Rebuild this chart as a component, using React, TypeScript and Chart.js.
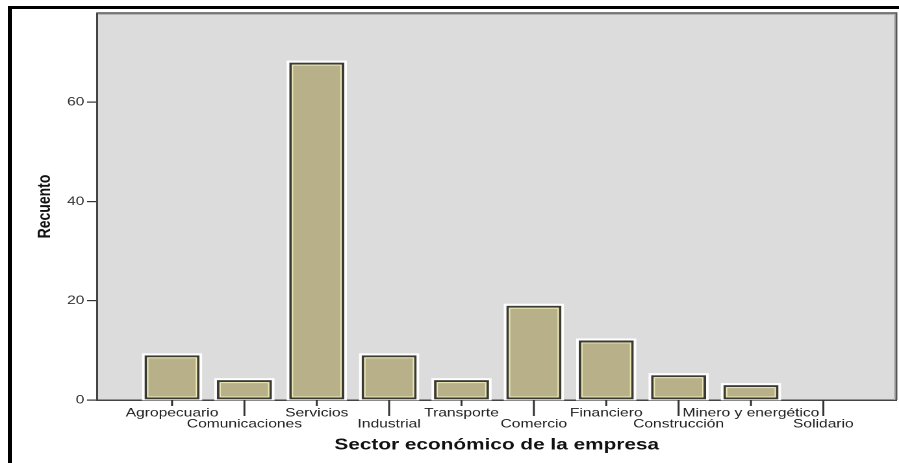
import React, { useEffect, useRef } from 'react';
import { Chart, registerables } from 'chart.js';

Chart.register(...registerables);

// ---- data ----
const categories = [
  'Agropecuario',
  'Comunicaciones',
  'Servicios',
  'Industrial',
  'Transporte',
  'Comercio',
  'Financiero',
  'Construcción',
  'Minero y energético',
  'Solidario',
];
const counts = [9, 4, 68, 9, 4, 19, 12, 5, 3, 0];
const yTickValues = [0, 20, 40, 60];
const yTitle = 'Recuento';
const xTitle = 'Sector económico de la empresa';

// ---- layout ----
const PAGE_W = 899;
const PAGE_H = 463;
const INNER_W = 692;
const STRETCH = PAGE_W / INNER_W;
const FONT = "'Liberation Sans', Arial, Helvetica, sans-serif";

const plotFrame = {
  id: 'plotFrame',
  beforeDraw(chart: any) {
    const { ctx, chartArea: a } = chart;
    ctx.save();
    ctx.fillStyle = '#dcdcdc';
    ctx.fillRect(a.left, a.top, a.right - a.left, a.bottom - a.top);
    ctx.restore();
  },
  afterDraw(chart: any) {
    const { ctx, chartArea: a } = chart;
    ctx.save();
    // top & right frame lines
    ctx.strokeStyle = '#555';
    ctx.lineWidth = 1.5;
    ctx.beginPath();
    ctx.moveTo(a.left, a.top);
    ctx.lineTo(a.right, a.top);
    ctx.lineTo(a.right, a.bottom);
    ctx.stroke();
    ctx.strokeStyle = '#b4b4b4';
    ctx.lineWidth = 1;
    ctx.beginPath();
    ctx.moveTo(a.left + 1, a.top + 1.5);
    ctx.lineTo(a.right - 1.5, a.top + 1.5);
    ctx.lineTo(a.right - 1.5, a.bottom);
    ctx.stroke();
    // staggered x tick marks
    const xs = chart.scales.x;
    ctx.strokeStyle = '#333';
    ctx.lineWidth = 1.5;
    categories.forEach((_, i) => {
      const px = xs.getPixelForValue(i);
      const len = i % 2 === 0 ? 6 : 16;
      ctx.beginPath();
      ctx.moveTo(px, a.bottom);
      ctx.lineTo(px, a.bottom + len);
      ctx.stroke();
    });
    ctx.restore();
  },
};

const barDecor = {
  id: 'barDecor',
  beforeDatasetsDraw(chart: any) {
    const { ctx } = chart;
    const meta = chart.getDatasetMeta(0);
    ctx.save();
    ctx.strokeStyle = 'rgba(255,255,255,0.95)';
    ctx.lineWidth = 2;
    meta.data.forEach((el: any) => {
      const { x, y, base, width } = el.getProps(['x', 'y', 'base', 'width'], true);
      if (Math.abs(base - y) < 0.5) return;
      ctx.strokeRect(x - width / 2 - 1, y - 1, width + 2, base - y + 1);
    });
    ctx.restore();
  },
  afterDatasetsDraw(chart: any) {
    const { ctx } = chart;
    const meta = chart.getDatasetMeta(0);
    ctx.save();
    ctx.strokeStyle = '#ece9b6';
    ctx.lineWidth = 1;
    const bw = 2;
    meta.data.forEach((el: any) => {
      const { x, y, base, width } = el.getProps(['x', 'y', 'base', 'width'], true);
      const h = base - y;
      if (h < 2 * bw + 2) return;
      ctx.strokeRect(x - width / 2 + bw + 0.5, y + bw + 0.5, width - 2 * bw - 1, h - 2 * bw - 1);
    });
    ctx.restore();
  },
};

export default function App() {
  const canvasRef = useRef<HTMLCanvasElement | null>(null);

  useEffect(() => {
    const canvas = canvasRef.current;
    if (!canvas) return;
    const chart = new Chart(canvas, {
      type: 'bar',
      data: {
        datasets: [
          {
            label: yTitle,
            data: counts.map((v, i) => ({ x: i, y: v })),
            backgroundColor: '#b7b088',
            borderColor: '#3a3a32',
            borderWidth: 2,
            borderSkipped: false,
            barPercentage: 0.76,
            categoryPercentage: 1,
          },
        ],
      },
      options: {
        responsive: false,
        animation: false,
        devicePixelRatio: 2,
        layout: { padding: { top: 13, right: 2, left: 0, bottom: 0 } },
        plugins: {
          legend: { display: false },
          tooltip: { enabled: false },
        },
        scales: {
          x: {
            type: 'linear',
            min: -1.037,
            max: 10.01,
            offset: false,
            afterBuildTicks: (s: any) => {
              s.ticks = categories.map((_, i) => ({ value: i }));
            },
            afterFit: (s: any) => {
              s.height = 63;
            },
            ticks: {
              autoSkip: false,
              maxRotation: 0,
              minRotation: 0,
              padding: 7.5,
              color: '#222',
              font: { family: FONT, size: 12, lineHeight: 0.92 },
              callback: (v: any) => {
                const i = Math.round(Number(v));
                const name = categories[i] ?? '';
                return i % 2 === 0 ? [name] : ['', name];
              },
            },
            grid: { display: false, drawTicks: false, offset: false },
            border: { display: true, color: '#444', width: 1.5 },
            title: {
              display: true,
              text: xTitle,
              color: '#111',
              font: { family: FONT, size: 16, weight: 'bold' },
              padding: { top: 0, bottom: 8.4 },
            },
          } as any,
          y: {
            min: 0,
            max: 78,
            afterBuildTicks: (s: any) => {
              s.ticks = yTickValues.map((v) => ({ value: v }));
            },
            afterFit: (s: any) => {
              s.width = 97 / STRETCH;
            },
            ticks: {
              includeBounds: false,
              padding: 2,
              color: '#333',
              font: { family: FONT, size: 12 },
            },
            grid: {
              drawOnChartArea: false,
              drawTicks: true,
              tickLength: 7.7,
              color: '#333',
              lineWidth: 1.2,
            },
            border: { display: true, color: '#444', width: 1.5 },
            title: {
              display: true,
              text: yTitle,
              color: '#111',
              font: { family: FONT, size: 14, weight: 'bold' },
              padding: { top: 26, bottom: 0 },
            },
          } as any,
        },
      },
      plugins: [plotFrame, barDecor],
    });
    return () => chart.destroy();
  }, []);

  return (
    <div
      style={{
        position: 'absolute',
        left: 0,
        top: 0,
        width: PAGE_W,
        height: PAGE_H,
        overflow: 'hidden',
        background: '#fff',
      }}
    >
      <div
        style={{
          position: 'absolute',
          left: 0,
          top: 0,
          width: INNER_W,
          height: PAGE_H,
          transform: `scaleX(${STRETCH})`,
          transformOrigin: '0 0',
        }}
      >
        <canvas ref={canvasRef} width={INNER_W} height={PAGE_H} />
      </div>
      <div style={{ position: 'absolute', left: 8, top: 6, width: PAGE_W - 8, height: 3, background: '#000' }} />
      <div style={{ position: 'absolute', left: 8, top: 6, width: 4, height: PAGE_H - 6, background: '#000' }} />
    </div>
  );
}
